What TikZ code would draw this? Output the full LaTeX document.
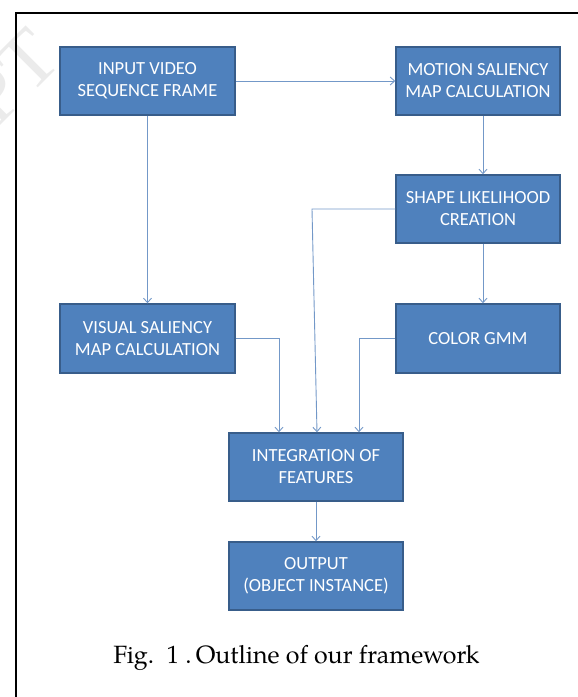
\documentclass[tikz,border=0pt]{standalone}
\usepackage{fontspec}
\setmainfont{TeX Gyre Pagella}
\newfontfamily\boxfont{Carlito}
\newfontfamily\wmfont{Liberation Serif}
\usetikzlibrary{arrows.meta}
\definecolor{boxfill}{RGB}{79,129,189}
\definecolor{boxline}{RGB}{56,93,138}
\definecolor{conn}{RGB}{115,152,200}
\tikzset{
  fbox/.style={rectangle, fill=boxfill, draw=boxline, line width=1.4pt, text=white,
    align=center, inner sep=0pt, font=\boxfont\fontsize{18.5}{22}\selectfont},
  conn/.style={draw=conn, line width=0.9pt, -{Straight Barb[length=4.5pt,width=8pt]}},
  frameline/.style={draw=black, line width=2pt}
}
\begin{document}
\begin{tikzpicture}[x=1pt,y=-1pt]
\useasboundingbox (0,0) rectangle (578,697);
% faint watermark remnant
\node[rotate=45, anchor=base east, text=gray!16, inner sep=0pt, font=\wmfont\fontsize{80}{80}\selectfont] (wm) at (64,62) {RIPT};
% frame
\draw[frameline] (15.5,700) -- (15.5,13) -- (580,13);
% boxes
\node[fbox, minimum width=175pt, minimum height=68pt] (input) at (147.5,81) {INPUT VIDEO\\SEQUENCE FRAME};
\node[fbox, minimum width=164pt, minimum height=68pt] (motion) at (478,81) {MOTION SALIENCY\\MAP CALCULATION};
\node[fbox, minimum width=164pt, minimum height=68pt] (shape) at (478,209) {SHAPE LIKELIHOOD\\CREATION};
\node[fbox, minimum width=175pt, minimum height=69pt] (visual) at (147.5,338.5) {VISUAL SALIENCY\\MAP CALCULATION};
\node[fbox, minimum width=164pt, minimum height=69pt] (color) at (478,338.5) {COLOR GMM};
\node[fbox, minimum width=174pt, minimum height=68pt] (integ) at (316,467) {INTEGRATION OF\\FEATURES};
\node[fbox, minimum width=174pt, minimum height=68pt] (output) at (316,576) {OUTPUT\\(OBJECT INSTANCE)};
% connector bends
\coordinate (b1) at (312,209);
\coordinate (b2) at (279,338.5);
\coordinate (b3) at (359,338.5);
% connectors
\draw[conn] (input.east) -- (motion.west);
\draw[conn] (input.south) -- (visual.north);
\draw[conn] ([xshift=5pt]motion.south) -- ([xshift=5pt]shape.north);
\draw[conn] ([xshift=5pt]shape.south) -- ([xshift=5pt]color.north);
\draw[conn] (shape.west) -- (b1) -- ([xshift=1pt]integ.north);
\draw[conn] (visual.east) -- (b2) -- (b2 |- integ.north);
\draw[conn] (color.west) -- (b3) -- (b3 |- integ.north);
\draw[conn] (integ.south) -- (output.north);
% caption
\node[anchor=base, font=\fontsize{25}{30}\selectfont] (cap) at (296.5,663) {Fig.\ \ 1 .\,Outline of our framework};
\end{tikzpicture}
\end{document}
